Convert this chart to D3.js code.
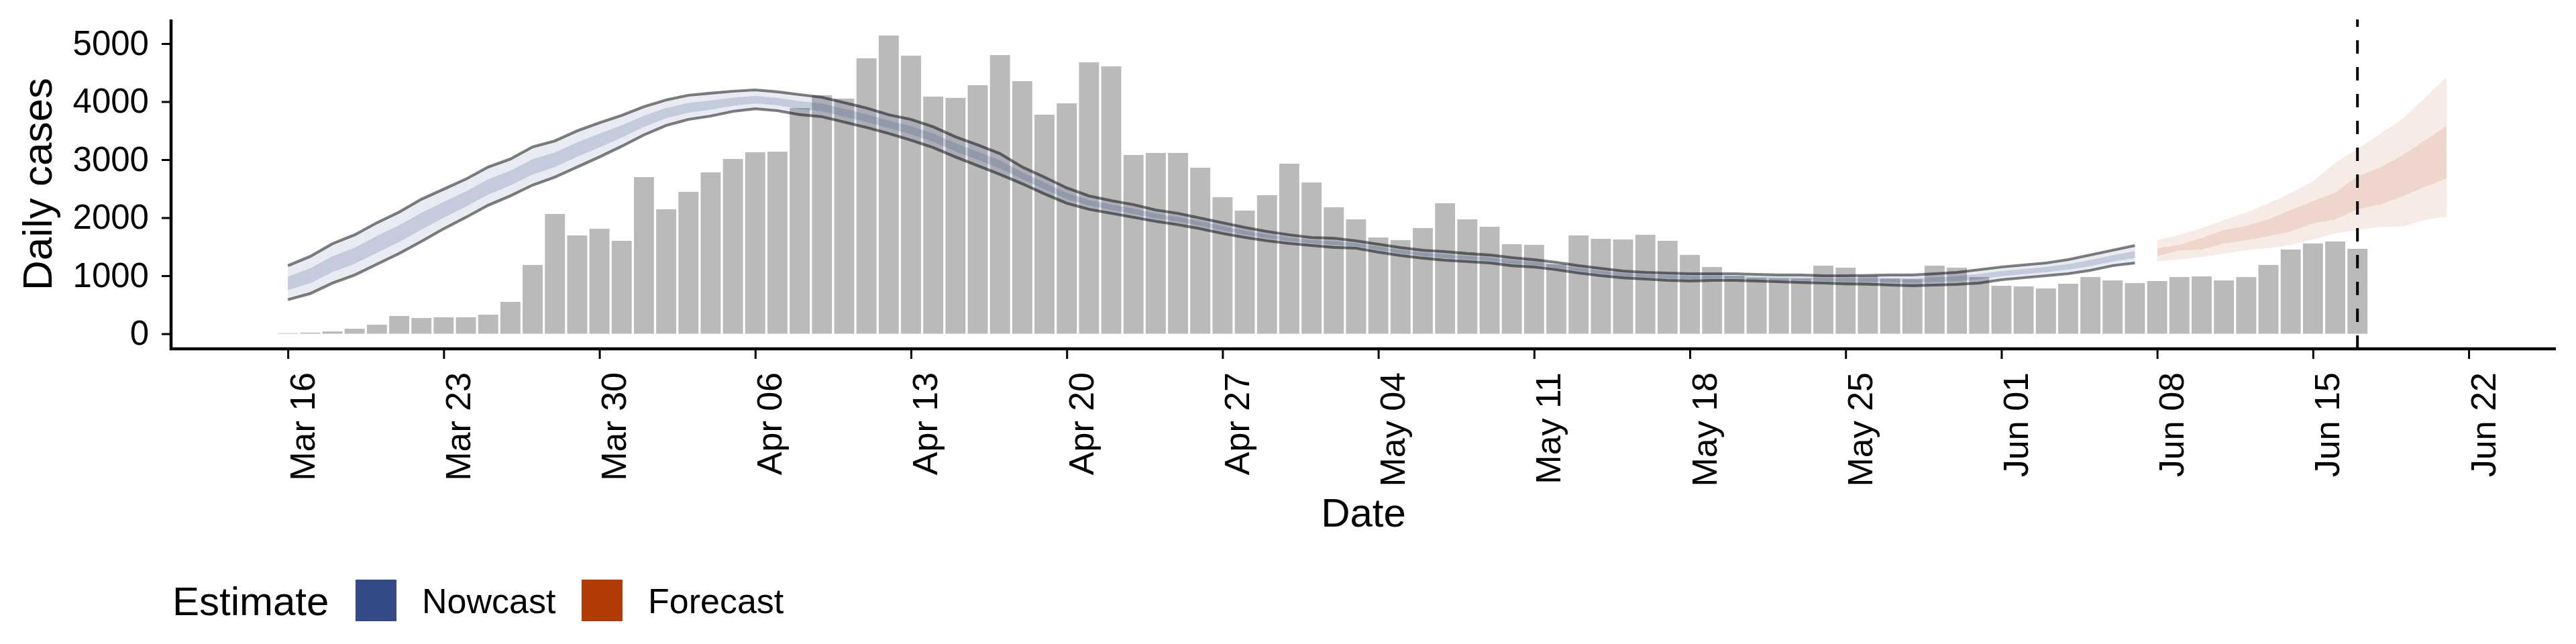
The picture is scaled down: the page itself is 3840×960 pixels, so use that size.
<!DOCTYPE html>
<html>
<head>
<meta charset="utf-8">
<script src="https://cdn.jsdelivr.net/npm/d3@7"></script>
<style>
  body { margin: 0; background: #ffffff; }
  svg { font-family: "Liberation Sans", Arial, Helvetica, sans-serif; }
</style>
</head>
<body>
<svg id="chart" width="3840" height="960"></svg>
<script>
// daily reported cases, one per day from Mar 16
var caseStart = "2020-03-16";
var cases = [10, 20, 40, 87, 156, 306, 272, 283, 283, 329, 549, 1185, 2064, 1694, 1809, 1601,
    2699, 2144, 2445, 2780, 3011, 3127, 3138, 3890, 4110, 4052, 4746, 5139, 4792, 4087, 4064, 4283,
    4803, 4353, 3775, 3971, 4676, 4607, 3081, 3116, 3116, 2861, 2353, 2122, 2387, 2931, 2607,
    2179, 1971, 1659, 1613, 1821, 2249, 1971, 1844, 1543, 1532, 1200, 1694, 1636, 1624, 1705, 1601,
    1358, 1150, 1000, 965, 955, 950, 1173, 1139, 1000, 950, 940, 1173, 1139, 977,
    827, 815, 780, 861, 977, 919, 873, 908, 977, 988, 919, 977, 1185, 1451, 1555, 1590, 1463];

// nowcast, one per day from Mar 16 to Jun 07
var nowStart = "2020-03-16";
var nowLower90 = [587, 692, 873, 1012, 1197, 1382, 1590, 1809, 2006, 2214, 2376, 2561, 2699, 2873, 3046, 3231,
    3427, 3590, 3694, 3751, 3832, 3878, 3844, 3775, 3740, 3647, 3555, 3451, 3335, 3208, 3046, 2896,
    2746, 2584, 2410, 2249, 2144, 2075, 2006, 1936, 1879, 1809, 1728, 1659, 1601, 1555, 1520, 1486,
    1474, 1405, 1347, 1301, 1266, 1243, 1220, 1173, 1150, 1104, 1046, 1000, 965, 942, 919, 908,
    919, 919, 908, 896, 884, 873, 861, 855, 838, 827, 838, 850, 873, 931, 965, 1000, 1035, 1092, 1173, 1220];
var nowUpper90 = [1173, 1332, 1551, 1705, 1913, 2098, 2318, 2491, 2665, 2873, 3011, 3220, 3324, 3497, 3636, 3763,
    3913, 4029, 4110, 4145, 4179, 4202, 4168, 4121, 4075, 3983, 3890, 3775, 3694, 3566, 3393, 3254,
    3104, 2873, 2699, 2514, 2376, 2295, 2225, 2133, 2075, 1994, 1913, 1832, 1763, 1705, 1659, 1647,
    1601, 1543, 1486, 1439, 1416, 1382, 1358, 1312, 1277, 1231, 1173, 1127, 1081, 1058, 1046, 1035,
    1035, 1035, 1023, 1012, 1012, 1000, 1000, 1006, 1012, 1012, 1035, 1058, 1104, 1150, 1185, 1220, 1277, 1358, 1439, 1520];
var nowLower50 = [751, 871, 1063, 1206, 1397, 1582, 1794, 2000, 2191, 2399, 2554, 2746, 2874, 3048, 3211, 3380,
    3563, 3713, 3810, 3861, 3929, 3969, 3935, 3872, 3834, 3741, 3649, 3542, 3436, 3308, 3143, 2996,
    2846, 2665, 2491, 2323, 2209, 2137, 2067, 1991, 1934, 1861, 1780, 1707, 1646, 1597, 1559, 1531,
    1510, 1444, 1386, 1340, 1308, 1282, 1259, 1212, 1186, 1140, 1082, 1036, 997, 974, 955, 944,
    951, 951, 940, 928, 920, 909, 900, 897, 887, 879, 893, 908, 938, 992, 1027, 1062, 1103, 1166, 1247, 1304];
var nowUpper50 = [985, 1127, 1334, 1483, 1684, 1869, 2085, 2273, 2454, 2662, 2808, 3009, 3124, 3297, 3447, 3593,
    3757, 3889, 3977, 4019, 4068, 4098, 4064, 4010, 3968, 3875, 3783, 3671, 3579, 3451, 3282, 3139,
    2989, 2781, 2607, 2429, 2302, 2225, 2155, 2070, 2012, 1935, 1854, 1777, 1711, 1657, 1615, 1595,
    1560, 1499, 1442, 1395, 1368, 1338, 1314, 1268, 1236, 1190, 1132, 1086, 1044, 1021, 1005, 994,
    998, 998, 986, 975, 971, 959, 956, 958, 956, 953, 972, 991, 1030, 1080, 1115, 1150, 1200, 1273, 1354, 1424];

// forecast, one per day from Jun 08 to Jun 21
var foreStart = "2020-06-08";
var foreLower90 = [1243, 1277, 1324, 1382, 1439, 1474, 1532, 1624, 1728, 1786, 1844, 1844, 1959, 2017];
var foreUpper90 = [1613, 1705, 1821, 1959, 2087, 2249, 2422, 2630, 2942, 3185, 3439, 3694, 4052, 4422];
var foreLower50 = [1335, 1439, 1451, 1555, 1613, 1682, 1763, 1902, 1971, 2145, 2225, 2364, 2526, 2676];
var foreUpper50 = [1474, 1532, 1647, 1786, 1856, 1971, 2133, 2283, 2433, 2711, 2861, 3069, 3324, 3578];

var yTicks = [0, 1000, 2000, 3000, 4000, 5000];
var estimateNames = ["Nowcast", "Forecast"];
var estimateColors = ["#344b85", "#b33c06"];
var cutoffDate = "2020-06-17";

var parseDay = d3.utcParse("%Y-%m-%d");
var svg = d3.select("#chart");

var padL = 255, padR = 3810, padT = 29, padB = 520;

var x = d3.scaleUtc()
    .domain([d3.utcHour.offset(parseDay(caseStart), -126), d3.utcHour.offset(parseDay(caseStart), 2446)])
    .range([padL, padR]);
var y = d3.scaleLinear()
    .domain([-260, 5416])
    .range([padB, padT]);

var dayW = x(d3.utcDay.offset(parseDay(caseStart), 1)) - x(parseDay(caseStart));

function toSeries(start, lo90, hi90, lo50, hi50) {
    var s = parseDay(start);
    return lo90.map(function (v, i) {
        return {date: d3.utcDay.offset(s, i), lo90: v, hi90: hi90[i], lo50: lo50[i], hi50: hi50[i]};
    });
}

var nowData = toSeries(nowStart, nowLower90, nowUpper90, nowLower50, nowUpper50);
var foreData = toSeries(foreStart, foreLower90, foreUpper90, foreLower50, foreUpper50);

//bars
svg.append("g")
    .selectAll("rect")
    .data(cases)
    .enter()
    .append("rect")
    .attr("x", function (d, i) {
        return x(d3.utcDay.offset(parseDay(caseStart), i)) - dayW * 0.45;
    })
    .attr("y", function (d) {
        return y(d);
    })
    .attr("width", dayW * 0.9)
    .attr("height", function (d) {
        return y(0) - y(d);
    })
    .attr("fill", "#bababa");

function band(lo, hi) {
    return d3.area()
        .x(function (d) { return x(d.date); })
        .y0(function (d) { return y(d[lo]); })
        .y1(function (d) { return y(d[hi]); });
}

function edge(key) {
    return d3.line()
        .x(function (d) { return x(d.date); })
        .y(function (d) { return y(d[key]); });
}

//nowcast ribbons
svg.append("path").datum(nowData)
    .attr("d", band("lo90", "hi90"))
    .attr("fill", estimateColors[0]).attr("fill-opacity", 0.11);
svg.append("path").datum(nowData)
    .attr("d", band("lo50", "hi50"))
    .attr("fill", estimateColors[0]).attr("fill-opacity", 0.2);
["lo90", "hi90"].forEach(function (k) {
    svg.append("path").datum(nowData)
        .attr("d", edge(k))
        .attr("fill", "none")
        .attr("stroke", "#000000")
        .attr("stroke-opacity", 0.5)
        .attr("stroke-width", 4.2);
});

//forecast ribbons
svg.append("path").datum(foreData)
    .attr("d", band("lo90", "hi90"))
    .attr("fill", estimateColors[1]).attr("fill-opacity", 0.1);
svg.append("path").datum(foreData)
    .attr("d", band("lo50", "hi50"))
    .attr("fill", estimateColors[1]).attr("fill-opacity", 0.12);

//cutoff line
svg.append("line")
    .attr("x1", x(parseDay(cutoffDate)))
    .attr("x2", x(parseDay(cutoffDate)))
    .attr("y1", padB)
    .attr("y2", padT)
    .attr("stroke", "#000000")
    .attr("stroke-width", 4)
    .attr("stroke-dasharray", "20 20");

//axes
var yAxis = svg.append("g")
    .attr("transform", "translate(" + padL + ",0)")
    .call(d3.axisLeft(y).tickValues(yTicks).tickFormat(d3.format("d")).tickSize(14).tickPadding(19).tickSizeOuter(0));
yAxis.select(".domain").attr("stroke-width", 4.5).attr("d", "M0," + padT + "V" + (padB + 2));
yAxis.selectAll(".tick line").attr("stroke-width", 3);
yAxis.selectAll(".tick text").attr("font-size", 51).attr("fill", "#000000").attr("font-family", null);

var xAxis = svg.append("g")
    .attr("transform", "translate(0," + padB + ")")
    .call(d3.axisBottom(x).ticks(d3.utcMonday.every(1)).tickFormat(d3.utcFormat("%b %d")).tickSize(15).tickSizeOuter(0));
xAxis.select(".domain").attr("stroke-width", 4.5).attr("d", "M" + (padL - 2) + ",0H" + padR);
xAxis.selectAll(".tick line").attr("stroke-width", 3);
xAxis.selectAll(".tick text")
    .attr("font-size", 52)
    .attr("fill", "#000000")
    .attr("font-family", null)
    .attr("x", 0)
    .attr("y", 0)
    .attr("dy", "0.75em")
    .attr("text-anchor", "end")
    .attr("transform", "translate(0,35) rotate(-90)");

//titles
svg.append("text")
    .attr("transform", "translate(77," + ((padT + padB) / 2) + ") rotate(-90)")
    .attr("text-anchor", "middle")
    .attr("font-size", 62)
    .text("Daily cases");
svg.append("text")
    .attr("x", (padL + padR) / 2)
    .attr("y", 785)
    .attr("text-anchor", "middle")
    .attr("font-size", 60)
    .text("Date");

//legend
var legend = svg.append("g");
legend.append("text")
    .attr("x", 257).attr("y", 917)
    .attr("font-size", 60)
    .text("Estimate");
var legendX = [530, 867];
estimateNames.forEach(function (name, i) {
    legend.append("rect")
        .attr("x", legendX[i]).attr("y", 864)
        .attr("width", 61).attr("height", 62)
        .attr("fill", estimateColors[i]);
    legend.append("text")
        .attr("x", legendX[i] + 99).attr("y", 914)
        .attr("font-size", 52)
        .text(name);
});
</script>
</body>
</html>
